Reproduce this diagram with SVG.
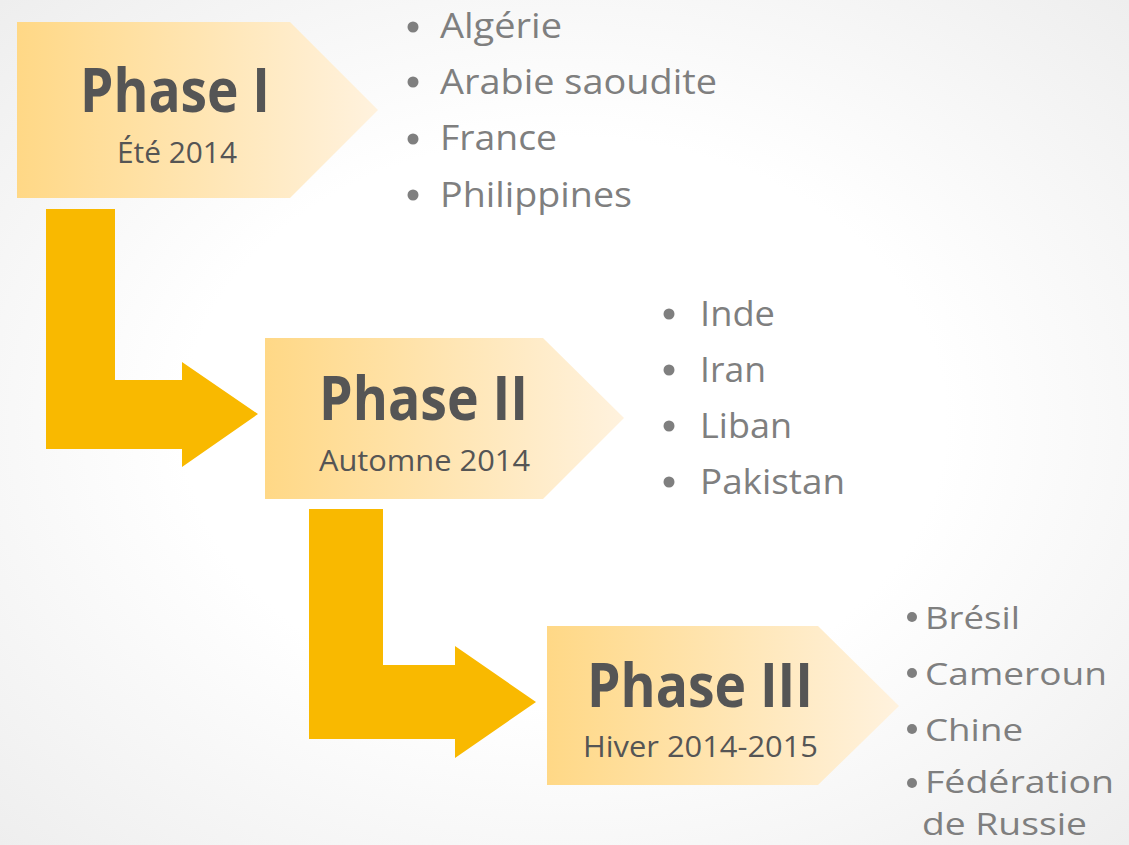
<svg xmlns="http://www.w3.org/2000/svg" width="1129" height="845" viewBox="0 0 1129 845">
  <defs>
    <radialGradient id="bg" cx="50%" cy="50%" r="75%">
      <stop offset="0.45" stop-color="#ffffff"/>
      <stop offset="1" stop-color="#ececec"/>
    </radialGradient>
    <linearGradient id="box" x1="0" y1="0" x2="1" y2="0">
      <stop offset="0" stop-color="#FFD886"/>
      <stop offset="1" stop-color="#FFF2DE"/>
    </linearGradient>
  </defs>
  <style>
    .box { fill: url(#box); }
    .arrow { fill: #F9B900; }
    .title { font-family: "Open Sans", "Noto Sans", sans-serif; font-weight: bold; font-size: 60px; fill: #555555; }
    .sub { font-family: "Open Sans", "Noto Sans", sans-serif; font-size: 30px; fill: #555555; }
    .item { font-family: "Open Sans", "Noto Sans", sans-serif; font-size: 34px; fill: #7F7F7F; }
    .item3 { font-family: "Open Sans", "Noto Sans", sans-serif; font-size: 31px; fill: #7F7F7F; }
    .dot { fill: #7F7F7F; }
  </style>
  <rect width="1129" height="845" fill="url(#bg)"/>

  <g id="connectors">
    <path class="arrow" d="M46,209 H115 V380 H182 V362 L258,414 L182,467 V449 H46 Z"/>
    <path class="arrow" d="M309,509 H383 V665 H455 V646 L536,702 L455,758 V739 H309 Z"/>
  </g>

  <g id="phase1">
    <path class="box" d="M17,22 H290 L378,110 L290,198 H17 Z"/>
    <text class="title" x="80" y="112" textLength="190" lengthAdjust="spacingAndGlyphs">Phase I</text>
    <text class="sub" x="117" y="163" textLength="120" lengthAdjust="spacingAndGlyphs">Été 2014</text>
  </g>

  <g id="phase2">
    <path class="box" d="M265,338 H543 L624,418 L543,499 H265 Z"/>
    <text class="title" x="319" y="420" textLength="209" lengthAdjust="spacingAndGlyphs">Phase II</text>
    <text class="sub" x="319" y="471" textLength="211" lengthAdjust="spacingAndGlyphs">Automne 2014</text>
  </g>

  <g id="phase3">
    <path class="box" d="M547,626 H818 L899,706 L818,785 H547 Z"/>
    <text class="title" x="587" y="707" textLength="226" lengthAdjust="spacingAndGlyphs">Phase III</text>
    <text class="sub" x="583" y="757" textLength="235" lengthAdjust="spacingAndGlyphs">Hiver 2014-2015</text>
  </g>

  <g id="list1">
    <circle class="dot" cx="413" cy="27" r="5.5"/>
    <circle class="dot" cx="413" cy="82" r="5.5"/>
    <circle class="dot" cx="413" cy="139" r="5.5"/>
    <circle class="dot" cx="413" cy="195" r="5.5"/>
    <text class="item" x="440" y="38" textLength="122" lengthAdjust="spacingAndGlyphs">Algérie</text>
    <text class="item" x="440" y="94" textLength="277" lengthAdjust="spacingAndGlyphs">Arabie saoudite</text>
    <text class="item" x="440" y="150" textLength="117" lengthAdjust="spacingAndGlyphs">France</text>
    <text class="item" x="440" y="207" textLength="192" lengthAdjust="spacingAndGlyphs">Philippines</text>
  </g>

  <g id="list2">
    <circle class="dot" cx="669" cy="314" r="5.5"/>
    <circle class="dot" cx="669" cy="370" r="5.5"/>
    <circle class="dot" cx="669" cy="426" r="5.5"/>
    <circle class="dot" cx="669" cy="482" r="5.5"/>
    <text class="item" x="700" y="326" textLength="75" lengthAdjust="spacingAndGlyphs">Inde</text>
    <text class="item" x="700" y="382" textLength="66" lengthAdjust="spacingAndGlyphs">Iran</text>
    <text class="item" x="700" y="438" textLength="92" lengthAdjust="spacingAndGlyphs">Liban</text>
    <text class="item" x="700" y="494" textLength="145" lengthAdjust="spacingAndGlyphs">Pakistan</text>
  </g>

  <g id="list3">
    <circle class="dot" cx="912" cy="617" r="5"/>
    <circle class="dot" cx="912" cy="673" r="5"/>
    <circle class="dot" cx="912" cy="729" r="5"/>
    <circle class="dot" cx="912" cy="783" r="5"/>
    <text class="item3" x="925" y="629" textLength="95" lengthAdjust="spacingAndGlyphs">Brésil</text>
    <text class="item3" x="925" y="685" textLength="182" lengthAdjust="spacingAndGlyphs">Cameroun</text>
    <text class="item3" x="925" y="741" textLength="98" lengthAdjust="spacingAndGlyphs">Chine</text>
    <text class="item3" x="925" y="793" textLength="189" lengthAdjust="spacingAndGlyphs">Fédération</text>
    <text class="item3" x="922" y="835" textLength="165" lengthAdjust="spacingAndGlyphs">de Russie</text>
  </g>
</svg>
